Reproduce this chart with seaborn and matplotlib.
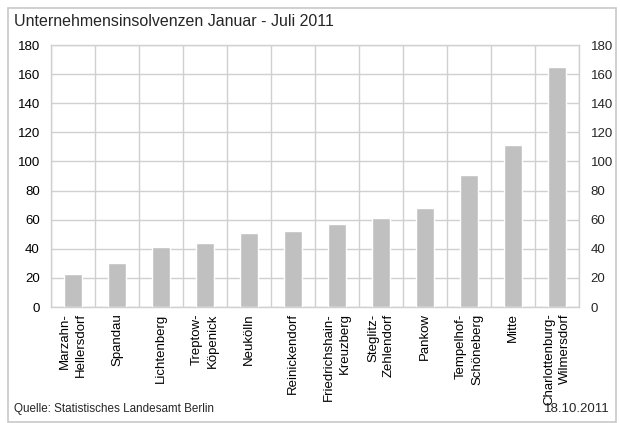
import numpy as np
import pandas as pd
import seaborn as sns
import matplotlib.pyplot as plt
from matplotlib.patches import Rectangle

# Insolvenzen je Bezirk, Januar - Juli 2011
bezirke = [
    "Marzahn-\nHellersdorf", "Spandau", "Lichtenberg", "Treptow-\nKöpenick",
    "Neukölln", "Reinickendorf", "Friedrichshain-\nKreuzberg", "Steglitz-\nZehlendorf",
    "Pankow", "Tempelhof-\nSchöneberg", "Mitte", "Charlottenburg-\nWilmersdorf",
]
insolvenzen = [23, 30, 41, 44, 51, 52, 57, 61, 68, 91, 111, 165]
y_ticks = [0, 20, 40, 60, 80, 100, 120, 140, 160, 180]

titel = "Unternehmensinsolvenzen Januar - Juli 2011"
quelle = "Quelle: Statistisches Landesamt Berlin"
datum = "18.10.2011"

df = pd.DataFrame({"Bezirk": bezirke, "Anzahl": insolvenzen})

sns.set_style("white")
plt.rcParams["font.family"] = ["Liberation Sans", "DejaVu Sans"]

GRID = "#d0d0d0"
fig = plt.figure(figsize=(6.2, 4.23), dpi=100)
ax = fig.add_axes([51 / 620, 1 - 307 / 423, 528 / 620, 262 / 423])

sns.barplot(data=df, x="Bezirk", y="Anzahl", color="#c0c0c0", saturation=1,
            width=0.43, ax=ax, zorder=3)

ax.set_xlim(-0.5, len(bezirke) - 0.5)
ax.set_ylim(0, 180)
ax.set_yticks(y_ticks)
ax.set_xticks(np.arange(-0.5, len(bezirke)), minor=True)
ax.grid(False)
ax.grid(axis="y", which="major", color=GRID, lw=1, zorder=0)
ax.grid(axis="x", which="minor", color=GRID, lw=1, zorder=0)
ax.set_axisbelow(True)
for s in ax.spines.values():
    s.set_color(GRID)
    s.set_linewidth(1)

ax.set_xlabel("")
ax.set_ylabel("")
ax.tick_params(axis="both", which="both", length=0, labelsize=9.5, colors="black")
ax.tick_params(axis="y", pad=8)
ax.tick_params(axis="x", pad=4.5)
ax.set_xticks(range(len(bezirke)))
ax.set_xticklabels(bezirke, rotation=90, ha="center", va="top",
                   multialignment="right", linespacing=1.45)

ax2 = ax.twinx()
ax2.set_ylim(0, 180)
ax2.set_yticks(y_ticks)
ax2.tick_params(axis="y", length=0, labelsize=9.5, pad=8.5)
for s in ax2.spines.values():
    s.set_visible(False)

fig.patches.append(Rectangle((8 / 620, 1 / 423), 608 / 620, 414 / 423,
                             transform=fig.transFigure, fill=False,
                             edgecolor="#c8c8c8", lw=1.2))
fig.text(14 / 620, 1 - 21 / 423, titel, fontsize=11.5, va="center", ha="left")
fig.text(14 / 620, 1 - 409 / 423, quelle, fontsize=8.4, va="center", ha="left")
fig.text(610 / 620, 1 - 409 / 423, datum, fontsize=9.5, va="center", ha="right")

fig.savefig("out.png", dpi=100)
